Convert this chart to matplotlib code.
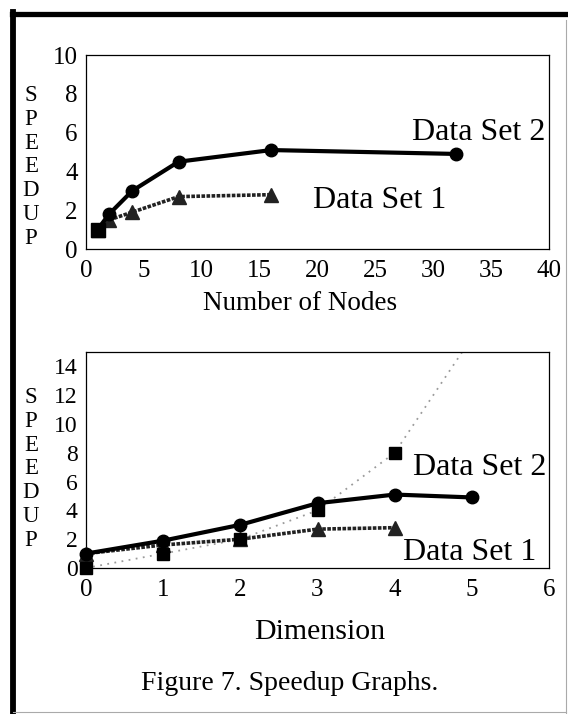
import matplotlib.pyplot as plt
from matplotlib.lines import Line2D

plt.rcParams['font.family'] = ['Liberation Serif', 'DejaVu Serif']

# top panel: speedup vs number of nodes
nodes_set2 = [1, 2, 4, 8, 16, 32]
speedup_set2 = [1.0, 1.8, 3.0, 4.5, 5.1, 4.9]
nodes_set1 = [1, 2, 4, 8, 16]
speedup_set1 = [1.0, 1.5, 1.9, 2.7, 2.8]
nodes_ideal = [1]
speedup_ideal = [1.0]

# bottom panel: speedup vs dimension
dim_set2 = [0, 1, 2, 3, 4, 5]
dim_speedup_set2 = [1.0, 1.9, 3.0, 4.5, 5.1, 4.9]
dim_set1 = [0, 1, 2, 3, 4]
dim_speedup_set1 = [1.0, 1.6, 2.0, 2.7, 2.8]
dim_ideal = [0, 1, 2, 3, 4, 5]
dim_speedup_ideal = [0, 1, 2, 4, 8, 16]

top_xticks = [0, 5, 10, 15, 20, 25, 30, 35, 40]
top_yticks = [0, 2, 4, 6, 8, 10]
bot_xticks = [0, 1, 2, 3, 4, 5, 6]
bot_yticks = [0, 2, 4, 6, 8, 10, 12, 14]

W, H = 568, 714
fig = plt.figure(figsize=(W / 100, H / 100), dpi=100)

def px_axes(left, top, right, bottom):
    return fig.add_axes([left / W, 1 - bottom / H, (right - left) / W, (bottom - top) / H])

def style(ax):
    for s in ax.spines.values():
        s.set_linewidth(0.9)
    ax.tick_params(length=0, labelsize=18, pad=6)
    ax.tick_params(axis='x', pad=8)

ax1 = px_axes(86, 55, 549, 249)
ax1.plot(nodes_set2, speedup_set2, color='black', lw=3, marker='o', ms=9, clip_on=False, zorder=4)
ax1.plot(nodes_set1, speedup_set1, color='#222222', lw=2.6, ls=(0, (1, 0.4)), marker='^', ms=10, clip_on=False, zorder=3)
ax1.plot(nodes_ideal, speedup_ideal, color='black', ls='none', marker='s', ms=10, clip_on=False, zorder=5)
ax1.set_xlim(0, 40)
ax1.set_ylim(0, 10)
ax1.set_xticks(top_xticks)
ax1.set_yticks(top_yticks)
style(ax1)
ax1.text(28.2, 6.0, 'Data Set 2', fontsize=23, va='center', ha='left')
ax1.text(19.6, 2.5, 'Data Set 1', fontsize=23, va='center', ha='left')
fig.text(203 / W, 1 - 303 / H, 'Number of Nodes', fontsize=19.5, ha='left', va='center')
fig.text(31 / W, 1 - 167 / H, 'S\nP\nE\nE\nD\nU\nP', fontsize=16.5, ha='center', va='center', linespacing=1.17)

ax2 = px_axes(86, 352, 549, 568)
ax2.plot(dim_ideal, dim_speedup_ideal, color='#9a9a9a', lw=1.3, ls=(0, (1, 3)), zorder=2)
ax2.plot(dim_ideal[:5], dim_speedup_ideal[:5], color='black', ls='none', marker='s', ms=9, clip_on=False, zorder=5)
ax2.plot(dim_set2, dim_speedup_set2, color='black', lw=3, marker='o', ms=9, clip_on=False, zorder=4)
ax2.plot(dim_set1, dim_speedup_set1, color='#222222', lw=2.6, ls=(0, (1, 0.4)), marker='^', ms=10, clip_on=False, zorder=3)
ax2.set_xlim(0, 6)
ax2.set_ylim(0, 15)
ax2.set_xticks(bot_xticks)
ax2.set_yticks(bot_yticks)
style(ax2)
ax2.tick_params(axis='y', labelsize=17)
ax2.text(4.24, 7.0, 'Data Set 2', fontsize=23, va='center', ha='left')
ax2.text(4.11, 1.1, 'Data Set 1', fontsize=23, va='center', ha='left')
fig.text(254 / W, 1 - 632 / H, 'Dimension', fontsize=21.5, ha='left', va='center')
fig.text(31 / W, 1 - 469 / H, 'S\nP\nE\nE\nD\nU\nP', fontsize=16.5, ha='center', va='center', linespacing=1.17)

fig.text(141 / W, 1 - 684 / H, 'Figure 7. Speedup Graphs.', fontsize=20, ha='left', va='center')

# scanned page frame
fig.add_artist(Line2D([12 / W, 565 / W], [1 - 14 / H, 1 - 14 / H], color='black', lw=3.8))
fig.add_artist(Line2D([13 / W, 13 / W], [1 - 12 / H, 0], color='black', lw=4.2))
fig.add_artist(Line2D([566 / W, 566 / W], [1 - 20 / H, 1 - 713 / H], color='#aaaaaa', lw=0.8))
fig.add_artist(Line2D([13 / W, 566 / W], [1 - 712 / H, 1 - 712 / H], color='#aaaaaa', lw=0.8))

fig.savefig('out.png', dpi=100)
